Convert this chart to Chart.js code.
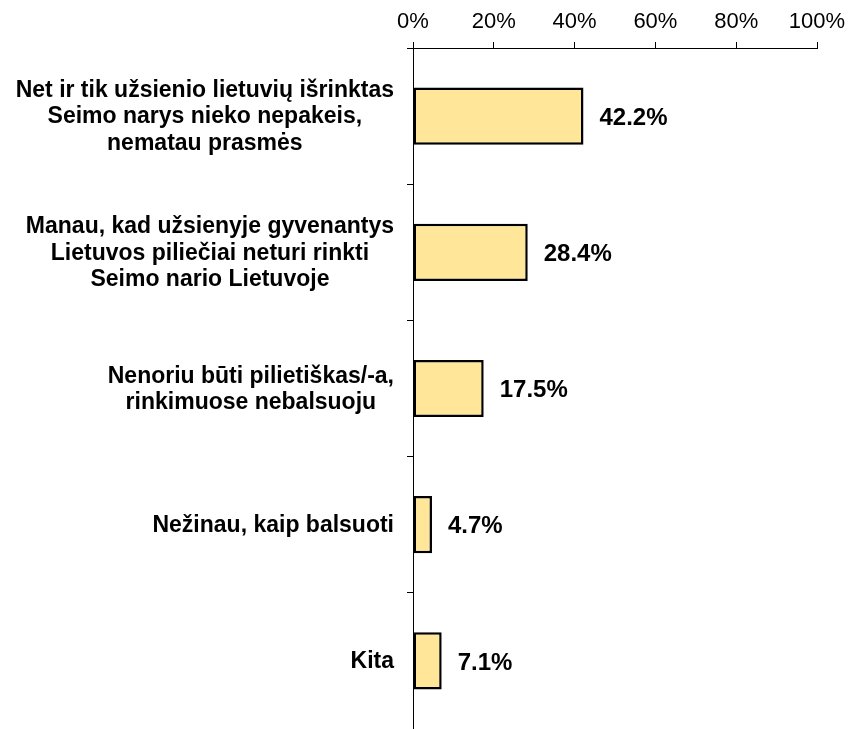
<!DOCTYPE html>
<html>
<head>
<meta charset="utf-8">
<script src="https://cdn.jsdelivr.net/npm/chart.js@4/dist/chart.umd.min.js"></script>
<style>
  html, body { margin: 0; padding: 0; background: #fff; }
  #wrap { width: 852px; height: 729px; }
</style>
</head>
<body>
<div id="wrap"><canvas id="myChart"></canvas></div>
<script>
// answers (multi-line category labels)
var categories = [
    ["Net ir tik užsienio lietuvių išrinktas", "Seimo narys nieko nepakeis,", "nematau prasmės"],
    ["Manau, kad užsienyje gyvenantys", "Lietuvos piliečiai neturi rinkti", "Seimo nario Lietuvoje"],
    ["Nenoriu būti pilietiškas/-a,", "rinkimuose nebalsuoju"],
    ["Nežinau, kaip balsuoti"],
    ["Kita"]
];
var values = [42.2, 28.4, 17.5, 4.7, 7.1];
var tickValues = [0, 20, 40, 60, 80, 100];

var FONT = "'Liberation Sans', Arial, sans-serif";

// draws "42.2%" right of every bar
var valueLabels = {
    id: 'valueLabels',
    afterDatasetsDraw: function (chart) {
        var ctx = chart.ctx;
        var meta = chart.getDatasetMeta(0);
        ctx.save();
        ctx.font = "bold 24px " + FONT;
        ctx.fillStyle = '#000';
        ctx.textAlign = 'left';
        ctx.textBaseline = 'middle';
        meta.data.forEach(function (bar, i) {
            ctx.fillText(values[i].toFixed(1) + '%', bar.x + 16, bar.y + 2);
        });
        ctx.restore();
    }
};

// category labels: block right-aligned, lines centered inside the block
var categoryLabels = {
    id: 'categoryLabels',
    afterDraw: function (chart) {
        var ctx = chart.ctx;
        var yScale = chart.scales.y;
        var lineH = 26.5;
        ctx.save();
        ctx.font = "bold 23px " + FONT;
        ctx.fillStyle = '#000';
        ctx.textAlign = 'center';
        ctx.textBaseline = 'middle';
        categories.forEach(function (lines, i) {
            var widest = 0;
            lines.forEach(function (l) { widest = Math.max(widest, ctx.measureText(l).width); });
            var cx = yScale.right - 19 - widest / 2;
            var cy = yScale.getPixelForValue(i);
            var y0 = cy - (lines.length - 1) * lineH / 2;
            lines.forEach(function (l, k) {
                ctx.fillText(l, cx, y0 + k * lineH + 1);
            });
        });
        ctx.restore();
    }
};

var ctx = document.getElementById('myChart').getContext('2d');
var myChart = new Chart(ctx, {
    type: 'bar',
    data: {
        labels: categories,
        datasets: [{
            data: values,
            backgroundColor: '#FFE699',
            borderColor: '#000',
            borderWidth: 2.5,
            borderSkipped: false,
            barPercentage: 0.42,
            categoryPercentage: 1.0
        }]
    },
    options: {
        indexAxis: 'y',
        responsive: true,
        maintainAspectRatio: false,
        animation: false,
        layout: { padding: { left: 0, right: 35, top: 0, bottom: -1 } },
        plugins: {
            legend: { display: false },
            tooltip: { enabled: false }
        },
        scales: {
            x: {
                position: 'top',
                min: 0,
                max: 100,
                afterBuildTicks: function (scale) {
                    scale.ticks = tickValues.map(function (v) { return { value: v }; });
                },
                afterFit: function (scale) {
                    scale.height = 48;
                    scale.paddingLeft = 0;
                    scale.paddingRight = 0;
                },
                grid: { drawOnChartArea: false, drawTicks: true, tickLength: 6, color: '#000' },
                border: { display: true, color: '#000', width: 1 },
                ticks: {
                    color: '#000',
                    padding: 7,
                    maxRotation: 0,
                    font: { family: FONT, size: 22 },
                    callback: function (v) { return v + '%'; }
                }
            },
            y: {
                afterFit: function (scale) {
                    scale.width = 413;
                    scale.paddingTop = 0;
                    scale.paddingBottom = 0;
                },
                grid: { drawOnChartArea: false, drawTicks: true, tickLength: 6, offset: true, color: '#000' },
                border: { display: true, color: '#000', width: 1 },
                ticks: { display: false }
            }
        }
    },
    plugins: [valueLabels, categoryLabels]
});
</script>
</body>
</html>
